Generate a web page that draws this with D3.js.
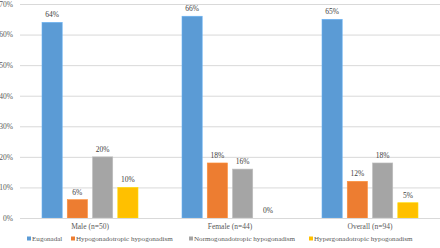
<!DOCTYPE html>
<html><head><meta charset="utf-8">
<script src="https://cdn.jsdelivr.net/npm/d3@7"></script>
<style>body{margin:0;background:#fff;}svg{display:block;font-family:"Liberation Serif","Times New Roman",serif;}</style>
</head><body><svg id="c" width="440" height="248"></svg>
<script>
const groups = ["Male (n=50)", "Female (n=44)", "Overall (n=94)"];
const seriesNames = ["Eugonadal", "Hypogonadotropic hypogonadism", "Normogonadotropic hypogonadism", "Hypergonadotropic hypogonadism"];
const colors = ["#5B9BD5", "#ED7D31", "#A5A5A5", "#FFC000"];
const eugonadal = [64, 66, 65];
const hypogonadotropic = [6, 18, 12];
const normogonadotropic = [20, 16, 18];
const hypergonadotropic = [10, 0, 5];
const yTicks = [0, 10, 20, 30, 40, 50, 60, 70];

const series = [eugonadal, hypogonadotropic, normogonadotropic, hypergonadotropic];
const svg = d3.select("#c");
const m = {l: 20, r: 0, t: 4, b: 30};
const W = 440, H = 248;
const y = d3.scaleLinear().domain([0, 70]).range([218, 4]);
const x0 = d3.scaleBand().domain(groups).range([m.l, W - m.r]);
const x1 = d3.scaleBand().domain(d3.range(4)).range([22, 118]).paddingInner(0.2);

svg.append("g").selectAll("line").data(yTicks).join("line")
  .attr("x1", m.l).attr("x2", W).attr("y1", d => y(d) + 0.5).attr("y2", d => y(d) + 0.5)
  .attr("stroke", "#d9d9d9").attr("stroke-width", 1);

const yAxis = d3.axisLeft(y).tickValues(yTicks).tickFormat(d => d + "%").tickSize(0).tickPadding(7);
const ga = svg.append("g").attr("transform", `translate(${m.l},0)`).call(yAxis);
ga.select(".domain").remove();
ga.selectAll("text").attr("fill", "#595959").style("font-size", "7.5px").style("font-family", "Liberation Serif");

const g = svg.append("g").selectAll("g").data(groups).join("g")
  .attr("transform", d => `translate(${x0(d)},0)`);
g.each(function(gname, gi) {
  const sel = d3.select(this);
  series.forEach((s, si) => {
    const v = s[gi];
    sel.append("rect").attr("x", x1(si)).attr("width", x1.bandwidth())
      .attr("y", y(v)).attr("height", y(0) - y(v)).attr("fill", colors[si])
      .attr("stroke", d3.color(colors[si]).brighter(0.4)).attr("stroke-width", 0.6);
    sel.append("text").attr("x", x1(si) + x1.bandwidth() / 2).attr("y", y(v) - 5)
      .attr("text-anchor", "middle").attr("fill", "#404040").style("font-size", "7.5px").text(v + "%");
  });
});

const xAxis = d3.axisBottom(x0).tickSize(0).tickPadding(6);
const gx = svg.append("g").attr("transform", `translate(0,${y(0)})`).call(xAxis);
gx.select(".domain").attr("stroke", "#d9d9d9");
gx.selectAll("text").attr("fill", "#595959").style("font-size", "7.5px").style("font-family", "Liberation Serif");

const legX = [27, 71, 189, 309];
const lg = svg.append("g").selectAll("g").data(seriesNames).join("g")
  .attr("transform", (d, i) => `translate(${legX[i]},241)`);
lg.append("rect").attr("x", 0).attr("y", -4.5).attr("width", 4).attr("height", 4).attr("fill", (d, i) => colors[i]);
lg.append("text").attr("x", 5).attr("y", 0).attr("fill", "#595959").style("font-size", "7.1px").text(d => d);
</script></body></html>
